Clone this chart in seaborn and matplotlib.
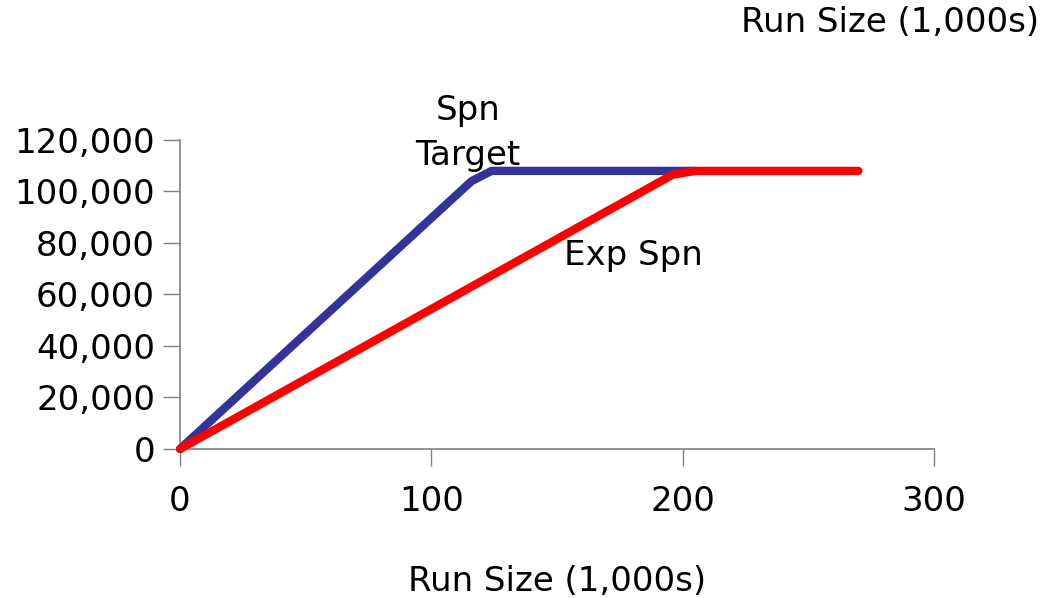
import matplotlib
matplotlib.use("Agg")
import matplotlib.pyplot as plt
import seaborn as sns
import pandas as pd

# Data
target_x = [0, 116, 124, 205]
target_y = [0, 104000, 108000, 108000]
exp_x = [0, 196, 205, 270]
exp_y = [0, 106500, 108000, 108000]
x_ticks = [0, 100, 200, 300]
y_ticks = [0, 20000, 40000, 60000, 80000, 100000, 120000]

sns.set_theme(style="white")
plt.rcParams['font.family'] = ['DejaVu Sans']
plt.rcParams['text.color'] = 'black'

fig = plt.figure(figsize=(10.48, 5.98), dpi=100)
ax = fig.add_axes([0.1718, 0.2492, 0.891 - 0.1718, 0.7659 - 0.2492])

df_t = pd.DataFrame({"x": target_x, "y": target_y})
df_e = pd.DataFrame({"x": exp_x, "y": exp_y})
sns.lineplot(data=df_t, x="x", y="y", ax=ax, color="#333399", linewidth=6,
             sort=False, clip_on=False, zorder=3)
sns.lineplot(data=df_e, x="x", y="y", ax=ax, color="#FF0000", linewidth=6,
             sort=False, clip_on=False, zorder=4)

FS = 24.5
ax.set_xlim(0, 300)
ax.set_ylim(0, 120000)
ax.set_xticks(x_ticks)
ax.set_yticks(y_ticks)
ax.set_xticklabels([str(v) for v in x_ticks], fontsize=FS, color="black")
ax.set_yticklabels([f"{v:,}" for v in y_ticks], fontsize=FS, color="black")
ax.tick_params(axis="x", bottom=True, direction="out", length=12, width=1,
               color="#808080", pad=14)
ax.tick_params(axis="y", left=True, direction="out", length=12, width=1,
               color="#808080", pad=6)
for s in ["top", "right"]:
    ax.spines[s].set_visible(False)
for s in ["left", "bottom"]:
    ax.spines[s].set_color("#808080")
    ax.spines[s].set_linewidth(1.2)
ax.set_xlabel("Run Size (1,000s)", fontsize=FS, labelpad=34, color="black")
ax.set_ylabel("")
ax.grid(False)

ax.text(114.6, 122800, "Spn\nTarget", ha="center", va="center", fontsize=FS,
        linespacing=1.45, zorder=5, color="black")
ax.text(180.5, 75300, "Exp Spn", ha="center", va="center", fontsize=FS,
        zorder=5, color="black")
fig.text(0.992, 0.963, "Run Size (1,000s)", ha="right", va="center",
         fontsize=FS, color="black")

fig.savefig("out.png", dpi=100)
